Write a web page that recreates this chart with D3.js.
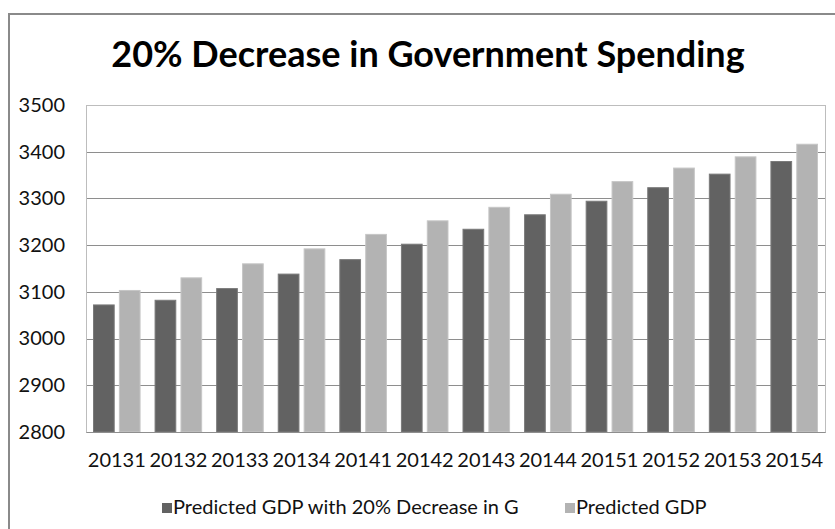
<!DOCTYPE html>
<html>
<head>
<meta charset="utf-8">
<script src="https://d3js.org/d3.v7.min.js"></script>
<style>
  body { margin: 0; background: #ffffff; }
  svg { display: block; font-family: Lato, "Open Sans", sans-serif; }
</style>
</head>
<body>
<script>
// data
var quarters = ["20131","20132","20133","20134","20141","20142","20143","20144","20151","20152","20153","20154"];
var seriesNames = ["Predicted GDP with 20% Decrease in G", "Predicted GDP"];
var decreaseG = [3072, 3082, 3107, 3138, 3169, 3202, 3234, 3265, 3294, 3323, 3352, 3379];
var predicted = [3103, 3130, 3160, 3192, 3223, 3252, 3281, 3309, 3336, 3365, 3389, 3416];
var yTicks = [2800, 2900, 3000, 3100, 3200, 3300, 3400, 3500];

var W = 835, H = 529;
var plot = {left: 86, right: 825, top: 105, bottom: 432};
var colors = ["#626262", "#b3b3b3"];
var edge = ["#7a7a7a", "#c6c6c6"];

var svg = d3.select("body").append("svg")
    .attr("width", W)
    .attr("height", H);

// chart frame (runs past right/bottom edges)
svg.append("rect")
    .attr("x", 9).attr("y", 14)
    .attr("width", W + 20).attr("height", H + 20)
    .attr("fill", "#ffffff")
    .attr("stroke", "#8a8a8a").attr("stroke-width", 2);

// title
svg.append("text")
    .attr("x", 428).attr("y", 67)
    .attr("text-anchor", "middle")
    .style("font-size", "36px")
    .style("font-weight", "bold")
    .attr("fill", "#000")
    .text("20% Decrease in Government Spending");

var y = d3.scaleLinear().domain([2800, 3500]).range([plot.bottom, plot.top]);
var x0 = d3.scaleBand().domain(quarters).range([plot.left, plot.right]);
var x1 = d3.scaleBand().domain([0, 1]).range([0, x0.bandwidth()])
    .paddingInner(0.2).paddingOuter(0.29);

// gridlines
svg.append("g").selectAll("line")
    .data(yTicks.slice(1, -1))
    .enter().append("line")
    .attr("x1", plot.left).attr("x2", plot.right)
    .attr("y1", function(d){ return Math.round(y(d)) + 0.5; })
    .attr("y2", function(d){ return Math.round(y(d)) + 0.5; })
    .attr("stroke", "#8e8e8e").attr("stroke-width", 1);

// plot area outline
svg.append("rect")
    .attr("x", plot.left + 0.5).attr("y", Math.round(plot.top) + 0.5)
    .attr("width", plot.right - plot.left).attr("height", plot.bottom - plot.top)
    .attr("fill", "none").attr("stroke", "#bdbdbd");

// y axis labels
var yAxis = d3.axisLeft(y).tickValues(yTicks).tickFormat(d3.format("d")).tickSize(0).tickPadding(0);
var ya = svg.append("g")
    .attr("transform", "translate(65,0)")
    .call(yAxis);
ya.select(".domain").remove();
ya.selectAll("text")
    .style("font-size", "20px")
    .attr("fill", "#111")
    .attr("font-family", "Lato");

// bars
var rows = quarters.map(function(q, i){ return {q: q, vals: [decreaseG[i], predicted[i]]}; });
var groups = svg.append("g").selectAll("g")
    .data(rows)
    .enter().append("g")
    .attr("transform", function(d){ return "translate(" + x0(d.q) + ",0)"; });
groups.selectAll("rect")
    .data(function(d){ return d.vals.map(function(v, k){ return {k: k, v: v}; }); })
    .enter().append("rect")
    .attr("x", function(d){ return x1(d.k); })
    .attr("width", x1.bandwidth())
    .attr("y", function(d){ return y(d.v); })
    .attr("height", function(d){ return y(2800) - y(d.v); })
    .attr("fill", function(d){ return colors[d.k]; })
    .attr("stroke", function(d){ return edge[d.k]; })
    .attr("stroke-width", 1);

// x axis
var xAxis = d3.axisBottom(x0).tickSize(0).tickPadding(0);
var xa = svg.append("g")
    .attr("transform", "translate(0," + plot.bottom + ")")
    .call(xAxis);
xa.select(".domain").attr("stroke", "#8e8e8e");
xa.selectAll("text")
    .attr("dy", null)
    .attr("y", 34.5)
    .style("font-size", "20px")
    .attr("fill", "#111")
    .attr("font-family", "Lato");

// legend
var legX = [162, 565];
var leg = svg.append("g").selectAll("g")
    .data(seriesNames)
    .enter().append("g")
    .attr("transform", function(d, i){ return "translate(" + legX[i] + ",503)"; });
leg.append("rect")
    .attr("width", 10).attr("height", 10)
    .attr("fill", function(d, i){ return colors[i]; });
leg.append("text")
    .attr("x", 11).attr("y", 11)
    .style("font-size", "20px")
    .attr("fill", "#111")
    .text(function(d){ return d; });
</script>
</body>
</html>
